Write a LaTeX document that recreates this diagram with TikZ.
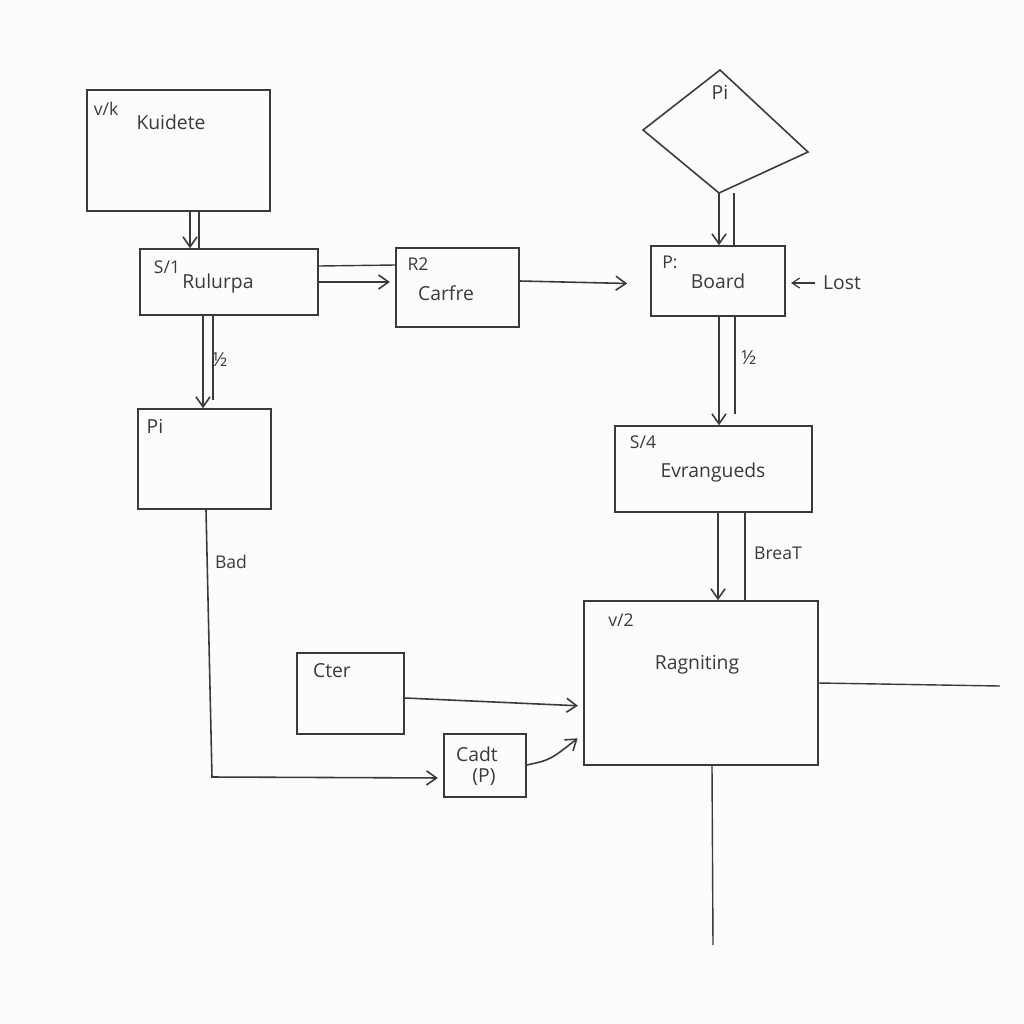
\documentclass[tikz,border=0pt]{standalone}
\usepackage{fontspec}
\setmainfont{Open Sans}
\usetikzlibrary{arrows.meta,calc}

\definecolor{paper}{HTML}{FCFCFA}
\definecolor{ink}{HTML}{3A3A3A}

% box from its corners, in pixel units of the sketch
\newcommand{\sketchbox}[5]{%
  \node[box, minimum width={(#4-#2)*0.2mm}, minimum height={(#5-#3)*0.2mm}]
    (#1) at ({(#2+#4)/2},{(#3+#5)/2}) {};}

\begin{document}
\begin{tikzpicture}[
    x=0.2mm, y=-0.2mm,
    font=\fontsize{11}{13}\selectfont,
    box/.style={draw=ink, line width=0.9pt, inner sep=0pt},
    tag/.style={text=ink, font=\fontsize{10}{12}\selectfont, inner sep=0pt},
    lbl/.style={text=ink, inner sep=0pt},
    arr/.style={draw=ink, line width=0.9pt, -{Straight Barb[length=2mm,width=2.8mm]}},
    wire/.style={draw=ink, line width=0.8pt}
]
\fill[paper] (0,0) rectangle (1024,1024);
\useasboundingbox (0,0) rectangle (1024,1024);

% Boxes
\sketchbox{kuid}{87}{90}{270}{211}
\sketchbox{rulu}{140}{249}{318}{315}
\sketchbox{carf}{396}{248}{519}{327}
\sketchbox{pibox}{138}{409}{271}{509}
\sketchbox{board}{651}{246}{785}{316}
\sketchbox{evra}{615}{426}{812}{512}
\sketchbox{ragn}{584}{601}{818}{765}
\sketchbox{cter}{297}{653}{404}{734}
\sketchbox{cadt}{444}{734}{526}{797}

% Diamond
\coordinate (dtop) at (720,70);
\coordinate (dleft) at (643,130);
\coordinate (dright) at (808,152);
\coordinate (dbot) at (719,193);
\draw[box] (dtop) -- (dright) -- (dbot) -- (dleft) -- cycle;
\node[lbl] (dpi) at (720,92) {Pi};

% Texts
\node[tag] (kuidtag) at (106,109) {v/k};
\node[lbl] (kuidtxt) at (171,122) {Kuidete};
\node[tag] (rulutag) at (167,267) {S/1};
\node[lbl] (rulutxt) at (218,283) {Rulurpa};
\node[tag] (carftag) at (418,264) {R2};
\node[lbl] (carftxt) at (446,293) {Carfre};
\node[lbl] (pitxt) at (155,426) {Pi};
\node[tag] (boardtag) at (670,262) {P:};
\node[lbl] (boardtxt) at (718,281) {Board};
\node[lbl] (lost) at (842,283) {Lost};
\node[tag] (evratag) at (643,442) {S/4};
\node[lbl] (evratxt) at (713,472) {Evrangueds};
\node[tag] (ragntag) at (621,620) {v/2};
\node[lbl] (ragntxt) at (697,665) {Ragniting};
\node[lbl] (ctertxt) at (332,671) {Cter};
\node[lbl] (cadttxt) at (477,754) {Cadt};
\node[lbl] (cadtp) at (484,777) {(P)};
\node[lbl] (half1) at (220,360) {½};
\node[lbl] (half2) at (749,358) {½};
\node[tag] (breat) at (778,553) {BreaT};
\node[tag] (bad) at (231,562) {Bad};

% Connectors
\draw[arr] (kuid.south -| 190,0) -- (rulu.north -| 190,0);
\draw[wire] (kuid.south -| 199,0) -- (rulu.north -| 199,0);
\draw[wire] (rulu.east |- 0,266) -- (carf.west |- 0,265);
\draw[arr, shorten >=3pt] (rulu.east |- 0,282) -- (carf.west |- 0,282);
\draw[arr, shorten >=23*0.2mm] (carf.east |- 0,281) -- (board.west |- 0,284);
\draw[arr] (dbot) -- (board.north -| 719,0);
\draw[wire] (dbot -| 734,0) -- (board.north -| 734,0);
\draw[arr] (board.south -| 719,0) -- (evra.north -| 719,0);
\draw[wire] (board.south -| 735,0) -- (735,414);
\draw[arr] (rulu.south -| 203,0) -- (pibox.north -| 203,0);
\draw[wire] (rulu.south -| 213,0) -- (213,400);
\draw[arr] (evra.south -| 718,0) -- (ragn.north -| 718,0);
\draw[wire] (evra.south -| 745,0) -- (ragn.north -| 745,0);
\draw[arr, shorten >=3pt] (pibox.south -| 206,0) -- (212,777) -- (cadt.west |- 0,778);
\draw[arr, shorten >=3pt] (cter.east |- 0,698) -- (ragn.west |- 0,706);
\draw[arr, shorten >=4pt] (cadt.east |- 0,765) .. controls (550,760) .. (ragn.west |- 0,734);
\draw[arr, -{Straight Barb[length=1.5mm,width=2mm]}, line width=0.7pt, shorten <=1.5mm, shorten >=3pt] (lost.west) -- (board.east |- lost.west);
\coordinate (rend) at (1000,686);
\coordinate (bend) at (713,945);
\draw[wire] (ragn.east |- 0,683) -- (rend);
\draw[wire] (ragn.south -| 712,0) -- (bend);
\end{tikzpicture}
\end{document}
